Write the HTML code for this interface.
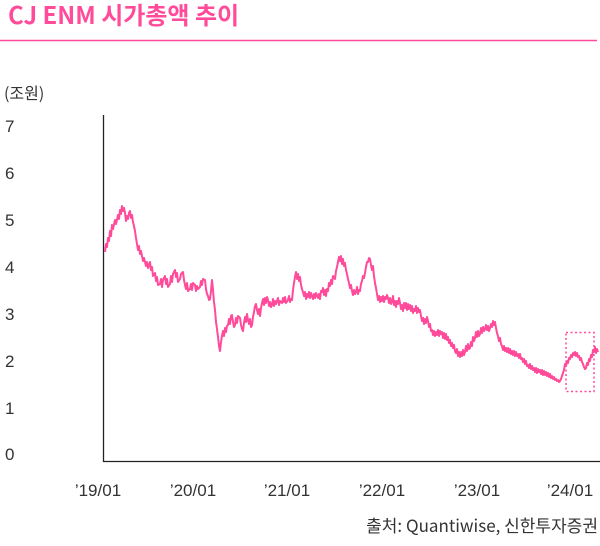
<!DOCTYPE html>
<html><head><meta charset="utf-8"><style>
body{margin:0;background:#fff;width:600px;height:541px;overflow:hidden;font-family:"Liberation Sans","Noto Sans CJK KR",sans-serif;}
</style></head><body>
<svg width="600" height="541" xmlns="http://www.w3.org/2000/svg" font-family="Liberation Sans, Noto Sans CJK KR, sans-serif">
<text x="8" y="24" font-size="24" font-weight="bold" fill="#ff4b9a" font-family="Noto Sans CJK KR, sans-serif">CJ ENM 시가총액 추이</text>
<line x1="0" y1="40.5" x2="597" y2="40.5" stroke="#ff4b9a" stroke-width="1.5"/>
<text x="4" y="99" font-size="16" fill="#333" font-family="Noto Sans CJK KR, sans-serif">(조원)</text>
<g font-size="17" fill="#333">
<text x="5" y="132">7</text><text x="5" y="179">6</text><text x="5" y="226">5</text><text x="5" y="273">4</text><text x="5" y="320">3</text><text x="5" y="367">2</text><text x="5" y="414">1</text><text x="5" y="460">0</text>
</g>
<line x1="103.5" y1="115" x2="103.5" y2="462" stroke="#222" stroke-width="1.3"/>
<line x1="103" y1="461.5" x2="600" y2="461.5" stroke="#222" stroke-width="1.3"/>
<g font-size="17" fill="#333" text-anchor="middle">
<text x="98" y="496">’19/01</text><text x="193" y="496">’20/01</text><text x="287" y="496">’21/01</text><text x="382" y="496">’22/01</text><text x="477" y="496">’23/01</text><text x="570" y="496">’24/01</text>
</g>
<text x="598" y="532" font-size="17" fill="#333" text-anchor="end" font-family="Noto Sans CJK KR, sans-serif">출처: Quantiwise, 신한투자증권</text>
<rect x="566" y="332.5" width="28" height="59" fill="none" stroke="#ff4b9a" stroke-width="1.5" stroke-dasharray="2,2.5"/>
<polyline fill="none" stroke="#ff4b9a" stroke-width="2" stroke-linejoin="round" points="105,252 106,244 107,247 108,238 109,241 110,231 111,236 112,225 113,229 115,220 116,224 118,215 119,219 120,210 121,214 122,206 123,211 124,208 125,213 126,221 127,216 128,219 129,213 130,211 131,218 132,215 133,222 134,226 135,231 136,238 137,244 138,250 139,246 140,254 141,251 142,256 143,261 144,258 146,266 147,262 148,268 150,262 151,270 152,267 153,276 155,273 156,281 157,277 158,285 160,284 161,279 162,287 163,280 165,276 166,284 167,279 168,287 170,284 171,276 172,282 173,274 175,270 176,277 177,273 178,282 180,279 181,274 183,272 184,280 185,285 186,289 187,283 188,291 190,289 191,284 192,290 193,283 195,285 196,291 197,286 198,289 200,287 201,281 202,285 203,279 205,280 206,289 207,294 208,296 209,300 210,299 211,291 212,280 213,290 214,302 215,310 216,322 217,329 218,337 219,346 220,351 221,342 222,336 223,331 224,336 225,328 226,332 227,326 228,325 229,319 230,324 231,316 232,315 233,322 234,327 235,325 236,318 237,323 238,316 240,318 241,325 242,329 243,331 244,323 245,317 246,322 247,314 248,320 249,324 250,319 251,327 252,325 253,317 254,312 255,306 256,304 257,310 258,314 259,309 260,316 261,308 262,303 263,299 264,305 265,298 266,303 267,297 268,300 269,306 270,302 271,307 272,305 273,299 274,306 275,301 276,304 278,298 279,305 280,301 282,303 283,298 284,302 285,297 286,303 288,300 289,296 290,302 291,299 292,300 293,290 294,283 295,277 296,272 297,279 298,274 299,281 300,277 301,285 302,289 303,292 304,296 305,292 306,299 307,294 308,297 309,292 310,298 311,293 312,296 313,299 314,294 315,298 316,293 318,298 319,294 320,299 321,291 322,292 323,288 324,295 325,290 326,296 327,289 328,291 329,283 330,286 331,280 332,284 333,276 335,279 336,271 337,267 338,262 339,257 340,261 341,256 342,264 343,259 344,266 345,263 346,270 347,274 348,279 349,283 350,288 351,285 352,291 353,295 354,290 355,294 356,292 357,287 358,294 359,290 360,291 361,284 362,281 363,276 364,278 365,273 366,267 367,262 368,262 369,258 370,259 371,265 372,270 373,266 374,276 375,283 376,288 377,294 378,300 379,296 380,302 381,297 382,301 383,296 384,302 385,297 386,299 387,295 388,298 389,303 390,298 391,304 392,302 393,296 394,305 395,301 396,307 397,301 398,304 399,298 400,303 401,309 402,305 403,311 404,303 405,308 406,303 407,310 408,304 409,309 410,305 411,311 412,306 413,313 414,309 415,311 416,306 417,313 418,308 419,312 420,310 421,316 422,321 423,318 424,324 425,319 426,323 427,317 428,321 429,327 430,324 431,331 432,330 433,335 434,331 435,336 436,332 437,335 438,330 439,336 440,331 441,334 442,332 443,338 444,333 445,339 446,334 447,340 448,337 449,343 450,340 451,346 452,343 453,348 454,345 455,351 456,353 457,349 458,356 459,352 460,357 461,352 462,356 463,350 464,355 465,352 466,346 467,351 468,344 469,349 470,348 471,342 472,346 473,337 474,341 475,338 476,332 477,337 478,331 479,336 480,334 481,328 482,333 483,327 484,331 485,329 486,325 487,330 488,326 489,331 490,328 491,324 492,327 493,321 494,325 495,322 496,328 497,333 498,336 499,341 500,338 501,344 502,346 503,350 504,346 505,351 506,348 507,352 508,348 509,353 510,349 511,354 512,351 513,355 514,351 515,356 516,352 517,356 518,354 519,358 520,354 521,359 522,358 523,362 524,359 525,364 526,361 527,366 528,365 529,368 530,364 531,369 532,366 533,370 534,368 535,372 536,368 537,373 538,369 539,372 540,370 541,374 542,370 543,375 544,371 545,375 546,372 547,376 548,373 549,377 550,374 551,378 552,376 553,379 554,377 555,380 556,379 557,381 558,380 559,382 560,381 561,379 562,376 563,373 564,370 565,364 566,366 567,361 568,363 569,358 570,359 571,355 572,357 573,353 574,355 575,352 576,356 577,353 578,357 579,356 580,360 581,358 582,362 583,364 584,367 585,369 586,368 587,363 588,365 589,359 590,361 591,355 592,357 593,350 594,352 595,347 596,353 597,349 598,352"/>
</svg>
</body></html>
